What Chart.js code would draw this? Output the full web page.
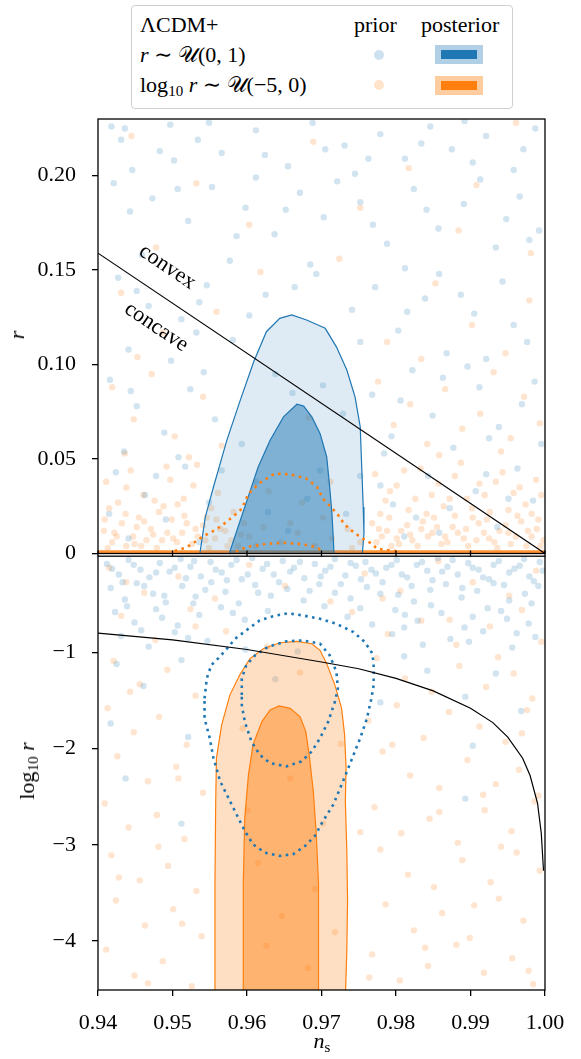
<!DOCTYPE html>
<html>
<head>
<meta charset="utf-8">
<script src="https://cdn.jsdelivr.net/npm/chart.js@4.4.1/dist/chart.umd.min.js"></script>
<style>
  html,body{margin:0;padding:0;background:#fff;}
  #wrap{position:relative;width:581px;height:1059px;overflow:hidden;font-family:"Liberation Serif","DejaVu Serif",serif;color:#000;}
  canvas{position:absolute;left:0;}
  #cTop{top:0;}
  #cBot{top:553px;}
  .t{position:absolute;font-size:22px;line-height:22px;white-space:nowrap;}
  .rot{transform:translate(-50%,-50%) rotate(-90deg);}
  .legend{position:absolute;left:131px;top:5px;width:380px;height:102px;border:1px solid #cfcfcf;border-radius:4px;background:#fff;}
  .dot{position:absolute;width:10px;height:10px;border-radius:50%;}
  .box{position:absolute;}
  sub{font-size:15px;vertical-align:-4px;line-height:0;}
</style>
</head>
<body>
<div id="wrap">
  <canvas id="cTop" width="581" height="560"></canvas>
  <canvas id="cBot" width="581" height="506"></canvas>

  <div class="legend">
    <div class="t" style="left:8px;top:8px;">ΛCDM+</div>
    <div class="t" style="left:8px;top:38px;"><i>r</i> ∼ 𝒰(0, 1)</div>
    <div class="t" style="left:8px;top:68px;">log<sub>10</sub> <i>r</i> ∼ 𝒰(−5, 0)</div>
    <div class="t" style="left:222px;top:8px;">prior</div>
    <div class="t" style="left:289px;top:8px;">posterior</div>
    <div class="dot" style="left:242px;top:44px;background:rgba(31,119,180,0.22);"></div>
    <div class="dot" style="left:242px;top:74px;background:rgba(255,127,14,0.22);"></div>
    <div class="box" style="left:303px;top:39px;width:48px;height:19px;background:rgba(31,119,180,0.35);"></div>
    <div class="box" style="left:309px;top:44px;width:36px;height:9px;background:#1f77b4;"></div>
    <div class="box" style="left:303px;top:70px;width:48px;height:19px;background:rgba(255,127,14,0.4);"></div>
    <div class="box" style="left:309px;top:75px;width:36px;height:9px;background:#ff7f0e;"></div>
  </div>

  <div class="t rot" style="left:17px;top:335px;"><i>r</i></div>
  <div class="t rot" style="left:27px;top:771px;">log<sub>10</sub> <i>r</i></div>
  <div class="t" style="left:322px;top:1041px;transform:translate(-50%,-50%);"><i>n</i><sub>s</sub></div>
  <div class="t" style="left:168px;top:266px;transform:translate(-50%,-50%) rotate(34deg);">convex</div>
  <div class="t" style="left:157px;top:326px;transform:translate(-50%,-50%) rotate(34deg);">concave</div>
</div>

<script>
// axis limits and ticks
const nsRange = [0.94, 1.00];
const rRange = [0, 0.23];
const logrRange = [-4.51, 0];
const nsTicks = [0.94, 0.95, 0.96, 0.97, 0.98, 0.99, 1.00];
const rTicks = [0, 0.05, 0.10, 0.15, 0.20];
const logrTicks = [-4, -3, -2, -1];

// prior samples, top panel (ns, r)
const priorBlueTop = [
  [0.9418,0.226],[0.9436,0.225],[0.9497,0.227],[0.9534,0.219],[0.9566,0.212],[0.9612,0.224],[0.9655,0.205],[0.9688,0.228],[0.9731,0.216],[0.9779,0.222],
  [0.9812,0.209],[0.9846,0.226],[0.9875,0.214],[0.9921,0.221],[0.9958,0.203],[0.9987,0.225],[0.9446,0.203],[0.9502,0.208],[0.9745,0.201],[0.9903,0.207],
  [0.9421,0.196],[0.9473,0.188],[0.9521,0.176],[0.9553,0.194],[0.9598,0.183],[0.9637,0.169],[0.9671,0.191],[0.9703,0.178],[0.9752,0.186],[0.9788,0.164],
  [0.9824,0.193],[0.9857,0.172],[0.9891,0.185],[0.9934,0.162],[0.9966,0.189],[0.9992,0.171],[0.9459,0.158],[0.9577,0.155],[0.9685,0.153],[0.9812,0.151],
  [0.9948,0.177],[0.9612,0.199],[0.9427,0.146],[0.9468,0.131],[0.9512,0.124],[0.9546,0.142],[0.9581,0.113],[0.9625,0.137],[0.9693,0.148],[0.9741,0.129],
  [0.9772,0.141],[0.9803,0.118],[0.9839,0.135],[0.9868,0.106],[0.9905,0.127],[0.9943,0.144],[0.9976,0.112],[0.9441,0.108],[0.9498,0.102],[0.9858,0.148],
  [0.9921,0.103],[0.9532,0.117],[0.9416,0.092],[0.9452,0.078],[0.9489,0.064],[0.9524,0.087],[0.9557,0.071],[0.9638,0.095],[0.9702,0.089],[0.9768,0.084],
  [0.9794,0.062],[0.9822,0.097],[0.9849,0.073],[0.9877,0.056],[0.9912,0.088],[0.9938,0.067],[0.9969,0.079],[0.9995,0.058],[0.9435,0.054],[0.9508,0.051],
  [0.9784,0.053],[0.9896,0.099],[0.9424,0.043],[0.9463,0.031],[0.9491,0.018],[0.9517,0.046],[0.9549,0.027],[0.9612,0.038],[0.9655,0.012],[0.9698,0.044],
  [0.9733,0.021],[0.9779,0.036],[0.9811,0.009],[0.9843,0.041],[0.9872,0.024],[0.9907,0.033],[0.9936,0.014],[0.9963,0.045],[0.9984,0.028],[0.9441,0.008],
  [0.9536,0.006],[0.9827,0.019],
  [0.9431,0.219],[0.9483,0.213],[0.9549,0.228],[0.9624,0.211],[0.9705,0.214],[0.9763,0.209],[0.9834,0.217],[0.9892,0.229],[0.9971,0.214],
  [0.9443,0.181],[0.9507,0.193],[0.9586,0.168],[0.9652,0.182],[0.9721,0.197],[0.9769,0.174],[0.9841,0.182],[0.9913,0.198],[0.9979,0.166],
  [0.9452,0.139],[0.9536,0.133],[0.9603,0.126],[0.9664,0.141],[0.9752,0.112],[0.9815,0.128],[0.9887,0.137],[0.9958,0.121],
  [0.9444,0.086],[0.9542,0.096],[0.9593,0.058],[0.9661,0.085],[0.9729,0.074],[0.9806,0.081],[0.9863,0.093],[0.9925,0.061],[0.9986,0.091],
  [0.9415,0.021],[0.9478,0.041],[0.9566,0.044],[0.9628,0.022],[0.9681,0.029],[0.9752,0.041],[0.9796,0.026],[0.9858,0.011],[0.9921,0.042],[0.9951,0.029]
];
const priorOrangeTop = [
  [0.9445,0.221],[0.9532,0.196],[0.9689,0.218],[0.9752,0.183],[0.9817,0.204],[0.9884,0.171],[0.9961,0.228],[0.9981,0.159],[0.9478,0.162],[0.9603,0.174],
  [0.9908,0.195],[0.9724,0.156],[0.9431,0.138],[0.9487,0.117],[0.9559,0.128],[0.9788,0.112],[0.9853,0.143],[0.9902,0.121],[0.9947,0.106],[0.9979,0.134],
  [0.9618,0.149],[0.9834,0.103],[0.9453,0.104],[0.9419,0.088],[0.9448,0.071],[0.9472,0.095],[0.9503,0.062],[0.9541,0.083],[0.9566,0.057],[0.9776,0.091],
  [0.9797,0.068],[0.9819,0.079],[0.9842,0.058],[0.9866,0.087],[0.9889,0.066],[0.9913,0.074],[0.9931,0.096],[0.9954,0.061],[0.9972,0.083],[0.9993,0.069],
  [0.9436,0.053],[0.9522,0.051],[0.9858,0.052],[0.9941,0.054],[0.9683,0.072],[0.9411,0.038],[0.9427,0.027],[0.9444,0.044],[0.9461,0.031],[0.9482,0.022],
  [0.9497,0.039],[0.9515,0.029],[0.9533,0.047],[0.9552,0.024],[0.9772,0.042],[0.9786,0.028],[0.9801,0.036],[0.9817,0.023],[0.9833,0.045],[0.9848,0.031],
  [0.9864,0.025],[0.9879,0.041],[0.9895,0.029],[0.9912,0.037],[0.9926,0.022],[0.9943,0.043],[0.9958,0.032],[0.9974,0.026],[0.9988,0.039],[0.9629,0.033],
  [0.9674,0.027],[0.9712,0.038],[0.9408,0.012],[0.9419,0.006],[0.9432,0.016],[0.9447,0.009],[0.9458,0.004],[0.9471,0.013],[0.9486,0.007],[0.9499,0.018],
  [0.9513,0.011],[0.9526,0.005],[0.9541,0.015],[0.9557,0.008],[0.9571,0.012],[0.9588,0.004],[0.9603,0.009],[0.9622,0.014],[0.9645,0.006],[0.9668,0.011],
  [0.9691,0.004],[0.9714,0.008],[0.9735,0.013],[0.9752,0.006],[0.9768,0.016],[0.9781,0.009],[0.9794,0.004],[0.9807,0.012],[0.9822,0.007],[0.9836,0.017],
  [0.9849,0.011],[0.9861,0.005],[0.9876,0.014],[0.9891,0.008],[0.9903,0.019],[0.9918,0.011],[0.9932,0.006],[0.9947,0.015],[0.9961,0.009],[0.9975,0.004],
  [0.9989,0.013],[0.9998,0.007],
  [0.9415,0.024],[0.9438,0.035],[0.9455,0.019],[0.9476,0.028],[0.9492,0.046],[0.9507,0.026],[0.9528,0.036],[0.9546,0.019],[0.9561,0.032],[0.9582,0.022],
  [0.9779,0.021],[0.9792,0.033],[0.9811,0.044],[0.9826,0.029],[0.9841,0.021],[0.9857,0.037],[0.9872,0.029],[0.9887,0.048],[0.9902,0.024],[0.9919,0.031],
  [0.9934,0.038],[0.9951,0.023],[0.9966,0.035],[0.9982,0.021],[0.9995,0.031],
  [0.9413,0.003],[0.9425,0.009],[0.9438,0.004],[0.9452,0.014],[0.9465,0.007],[0.9479,0.003],[0.9493,0.011],[0.9506,0.006],[0.9519,0.016],[0.9534,0.009],
  [0.9549,0.003],[0.9564,0.013],[0.9579,0.007],[0.9596,0.016],[0.9774,0.006],[0.9788,0.012],[0.9801,0.008],[0.9815,0.015],[0.9829,0.004],[0.9843,0.009],
  [0.9855,0.014],[0.9869,0.006],[0.9883,0.011],[0.9897,0.004],[0.9911,0.016],[0.9925,0.008],[0.9939,0.012],[0.9954,0.005],[0.9968,0.017],[0.9982,0.009],[0.9994,0.004],
  [0.9409,0.018],[0.9422,0.011],[0.9437,0.021],[0.9449,0.005],[0.9462,0.017],[0.9474,0.010],[0.9488,0.025],[0.9501,0.008],[0.9516,0.020],[0.9531,0.013],
  [0.9544,0.007],[0.9559,0.018],[0.9574,0.004],[0.9592,0.010],[0.9777,0.013],[0.9791,0.019],[0.9804,0.005],[0.9819,0.010],[0.9834,0.013],[0.9851,0.019],
  [0.9866,0.009],[0.9879,0.020],[0.9894,0.013],[0.9908,0.007],[0.9922,0.018],[0.9936,0.003],[0.9951,0.011],[0.9963,0.020],[0.9977,0.012],[0.9991,0.018],
  [0.9612,0.004],[0.9658,0.016],[0.9702,0.019],[0.9741,0.003]
];
// pile-up of log-prior samples at r ~ 0
const priorOrangeFloor = [[0.94,0.0008],[1.00,0.0008]];

// prior samples, bottom panel (ns, log10 r)
const priorBlueBot = [
  [0.9412,-0.08],[0.9428,-0.19],[0.9441,-0.04],[0.9457,-0.14],[0.9469,-0.22],[0.9483,-0.07],[0.9496,-0.16],[0.9511,-0.03],[0.9524,-0.11],[0.9538,-0.21],
  [0.9551,-0.06],[0.9566,-0.17],[0.9579,-0.09],[0.9593,-0.24],[0.9607,-0.02],[0.9621,-0.13],[0.9636,-0.19],[0.9648,-0.05],[0.9663,-0.12],[0.9677,-0.23],
  [0.9691,-0.08],[0.9705,-0.15],[0.9718,-0.03],[0.9732,-0.20],[0.9746,-0.10],[0.9759,-0.06],[0.9773,-0.18],[0.9787,-0.12],[0.9801,-0.04],[0.9815,-0.22],
  [0.9828,-0.09],[0.9842,-0.15],[0.9856,-0.02],[0.9869,-0.11],[0.9883,-0.19],[0.9897,-0.07],[0.9911,-0.14],[0.9925,-0.24],[0.9938,-0.05],[0.9952,-0.17],
  [0.9966,-0.10],[0.9979,-0.21],[0.9993,-0.06],[0.9417,-0.33],[0.9436,-0.45],[0.9452,-0.28],[0.9474,-0.39],[0.9491,-0.48],[0.9513,-0.31],[0.9531,-0.42],
  [0.9552,-0.27],[0.9571,-0.37],[0.9589,-0.49],[0.9611,-0.30],[0.9632,-0.41],[0.9654,-0.34],[0.9676,-0.46],[0.9697,-0.29],[0.9718,-0.38],[0.9739,-0.44],
  [0.9761,-0.32],[0.9782,-0.27],[0.9803,-0.40],[0.9824,-0.47],[0.9846,-0.35],[0.9867,-0.29],[0.9888,-0.43],[0.9909,-0.36],[0.9931,-0.28],[0.9952,-0.46],
  [0.9973,-0.39],[0.9991,-0.31],[0.9423,-0.58],[0.9449,-0.69],[0.9478,-0.55],[0.9507,-0.72],[0.9536,-0.61],[0.9565,-0.53],[0.9597,-0.66],[0.9628,-0.57],
  [0.9704,-0.52],[0.9735,-0.63],[0.9768,-0.71],[0.9799,-0.56],[0.9829,-0.67],[0.9861,-0.59],[0.9892,-0.74],[0.9923,-0.54],[0.9949,-0.65],[0.9978,-0.70],
  [0.9431,-0.83],[0.9468,-0.94],[0.9503,-0.79],[0.9547,-0.88],[0.9598,-0.97],[0.9795,-0.81],[0.9836,-0.92],[0.9873,-0.86],[0.9917,-0.78],[0.9956,-0.95],
  [0.9987,-0.84],[0.9668,-0.99],[0.9425,-1.12],[0.9461,-1.35],[0.9512,-1.08],[0.9638,-1.28],[0.9811,-1.04],[0.9842,-1.19],[0.9893,-1.46],[0.9934,-1.22],
  [0.9968,-1.61],[0.9417,-1.74],[0.9779,-1.52],[0.9521,-1.88],[0.9903,-1.97],[0.9437,-2.31],[0.9893,-2.52],[0.9512,-2.78],
  [0.9419,-0.13],[0.9433,-0.27],[0.9448,-0.09],[0.9462,-0.31],[0.9478,-0.17],[0.9489,-0.41],[0.9503,-0.12],[0.9518,-0.23],[0.9529,-0.05],[0.9544,-0.35],
  [0.9558,-0.14],[0.9573,-0.25],[0.9586,-0.04],[0.9601,-0.19],[0.9615,-0.38],[0.9627,-0.08],[0.9643,-0.27],[0.9658,-0.16],[0.9671,-0.06],[0.9684,-0.36],
  [0.9699,-0.21],[0.9712,-0.11],[0.9726,-0.29],[0.9739,-0.07],[0.9753,-0.24],[0.9767,-0.14],[0.9779,-0.39],[0.9794,-0.09],[0.9808,-0.19],[0.9821,-0.31],
  [0.9835,-0.06],[0.9849,-0.25],[0.9862,-0.16],[0.9876,-0.04],[0.9889,-0.33],[0.9903,-0.12],[0.9917,-0.22],[0.9931,-0.09],[0.9945,-0.30],[0.9959,-0.13],
  [0.9972,-0.03],[0.9985,-0.26],[0.9997,-0.15],[0.9439,-0.52],[0.9486,-0.64],[0.9528,-0.49],[0.9581,-0.59],[0.9752,-0.54],[0.9812,-0.61],[0.9847,-0.51],
  [0.9903,-0.63],[0.9941,-0.57],[0.9982,-0.49],[0.9458,-0.77],[0.9521,-0.85],[0.9811,-0.74],[0.9898,-0.89],[0.9962,-0.80]
];
const priorOrangeBot = [
  [0.9415,-0.12],[0.9462,-0.38],[0.9508,-0.21],[0.9557,-0.44],[0.9603,-0.09],[0.9651,-0.31],[0.9712,-0.47],[0.9758,-0.18],[0.9806,-0.36],[0.9857,-0.05],
  [0.9903,-0.27],[0.9952,-0.41],[0.9988,-0.15],[0.9431,-0.62],[0.9477,-0.87],[0.9524,-0.55],[0.9572,-0.78],[0.9627,-0.94],[0.9741,-0.58],[0.9789,-0.81],
  [0.9834,-0.67],[0.9881,-0.92],[0.9926,-0.73],[0.9969,-0.56],[0.9995,-0.89],[0.9421,-1.09],[0.9456,-1.33],[0.9493,-1.18],[0.9531,-1.45],[0.9774,-1.06],
  [0.9812,-1.27],[0.9848,-1.41],[0.9885,-1.14],[0.9921,-1.36],[0.9958,-1.22],[0.9983,-1.48],[0.9671,-1.21],[0.9413,-1.58],[0.9448,-1.83],[0.9482,-1.67],
  [0.9519,-1.96],[0.9763,-1.71],[0.9801,-1.55],[0.9837,-1.89],[0.9871,-1.62],[0.9912,-1.77],[0.9947,-1.93],[0.9976,-1.60],[0.9594,-1.79],[0.9426,-2.08],
  [0.9467,-2.34],[0.9505,-2.19],[0.9541,-2.46],[0.9782,-2.03],[0.9819,-2.28],[0.9858,-2.41],[0.9896,-2.12],[0.9934,-2.37],[0.9965,-2.22],[0.9991,-2.49],
  [0.9658,-2.31],[0.9409,-2.57],[0.9441,-2.82],[0.9479,-2.69],[0.9516,-2.94],[0.9771,-2.61],[0.9807,-2.88],[0.9845,-2.73],[0.9883,-2.98],[0.9919,-2.64],
  [0.9955,-2.86],[0.9986,-2.55],[0.9702,-2.78],[0.9418,-3.11],[0.9456,-3.37],[0.9494,-3.22],[0.9532,-3.48],[0.9779,-3.05],[0.9816,-3.31],[0.9851,-3.44],
  [0.9889,-3.16],[0.9927,-3.39],[0.9962,-3.08],[0.9993,-3.27],[0.9615,-3.19],[0.9424,-3.58],[0.9463,-3.84],[0.9501,-3.67],[0.9539,-3.95],[0.9786,-3.62],
  [0.9824,-3.89],[0.9862,-3.71],[0.9899,-3.97],[0.9938,-3.56],[0.9971,-3.79],[0.9647,-3.74],[0.9718,-3.91],[0.9411,-4.09],[0.9449,-4.36],[0.9487,-4.21],
  [0.9526,-4.47],[0.9768,-4.14],[0.9805,-4.41],[0.9843,-4.26],[0.9881,-4.04],[0.9918,-4.33],[0.9956,-4.18],[0.9984,-4.45],[0.9682,-4.28],
  [0.9438,-0.27],[0.9531,-0.73],[0.9782,-0.44],[0.9872,-0.66],[0.9937,-1.05],[0.9443,-1.41],[0.9508,-2.31],[0.9795,-1.96],[0.9858,-2.66],[0.9941,-3.02],
  [0.9428,-3.34],[0.9513,-3.82],[0.9839,-4.07],[0.9905,-3.63],[0.9978,-4.31],[0.9467,-4.44],[0.9601,-2.64],[0.9626,-4.05],[0.9691,-3.46],[0.9726,-1.95],
  [0.9752,-2.87],[0.9764,-4.38],[0.9917,-2.48],[0.9969,-1.84],[0.9481,-3.02]
];

// posterior contours, r ~ U(0,1) run, in (ns, r)
const blue95Top = [
  [0.9537,-0.003],[0.9537,0.0007],[0.9544,0.0193],[0.9555,0.0352],[0.9573,0.0600],[0.9591,0.0812],[0.9609,0.1015],[0.9626,0.1174],[0.9644,0.1245],
  [0.9660,0.1263],[0.9680,0.1236],[0.9705,0.1192],[0.9720,0.1094],[0.9734,0.0971],[0.9745,0.0829],[0.9752,0.0670],[0.9754,0.0458],[0.9756,0.0246],
  [0.9757,0.0106],[0.9755,0.0007],[0.9755,-0.003],[0.9537,-0.003]
];
const blue68Top = [
  [0.9577,-0.003],[0.9577,0.001],[0.9588,0.0140],[0.9600,0.0281],[0.9615,0.0458],[0.9631,0.0600],[0.9649,0.0723],[0.9667,0.0790],[0.9676,0.0780],
  [0.9687,0.0723],[0.9698,0.0635],[0.9707,0.0511],[0.9711,0.0352],[0.9714,0.0211],[0.9716,0.0069],[0.9717,-0.003],[0.9577,-0.003]
];
// log10 r ~ U(-5,0) run shown in r
const orange95Top = [
  [0.9503,0.0013],[0.9519,0.0033],[0.9529,0.0058],[0.9538,0.0083],[0.9548,0.0105],[0.9558,0.0126],[0.9567,0.0150],[0.9576,0.0179],[0.9585,0.0208],
  [0.9593,0.0237],[0.9602,0.0317],[0.9617,0.0373],[0.9637,0.0423],[0.9658,0.0419],[0.9680,0.0396],[0.9694,0.0352],[0.9702,0.0290],[0.9716,0.0232],
  [0.9724,0.0196],[0.9730,0.0158],[0.9738,0.0129],[0.9747,0.0101],[0.9756,0.0078],[0.9766,0.0055],[0.9775,0.0025],[0.9805,0.0010]
];
const orange68Top = [
  [0.9585,0.0010],[0.9593,0.0025],[0.9604,0.0037],[0.9626,0.0051],[0.9649,0.0057],[0.9669,0.0051],[0.9685,0.0042],[0.9694,0.0030],[0.9701,0.0016]
];

// posterior contours in (ns, log10 r)
const orange95Bot = [
  [0.9557,-4.60],[0.9557,-3.408],[0.9558,-2.547],[0.9559,-2.099],[0.9566,-1.754],[0.9577,-1.444],[0.9590,-1.237],[0.9604,-1.065],[0.9622,-0.962],
  [0.9644,-0.900],[0.9667,-0.885],[0.9687,-0.910],[0.9698,-0.978],[0.9707,-1.117],[0.9718,-1.340],[0.9727,-1.582],[0.9731,-1.857],[0.9733,-2.203],
  [0.9732,-2.547],[0.9734,-3.064],[0.9735,-3.581],[0.9734,-4.098],[0.9732,-4.60],[0.9557,-4.60]
];
const orange68Bot = [
  [0.9595,-4.60],[0.9595,-3.408],[0.9597,-2.720],[0.9602,-2.271],[0.9608,-1.961],[0.9620,-1.720],[0.9631,-1.599],[0.9643,-1.557],[0.9658,-1.582],
  [0.9671,-1.668],[0.9679,-1.823],[0.9684,-2.099],[0.9689,-2.444],[0.9693,-2.891],[0.9696,-3.408],[0.9696,-4.60],[0.9595,-4.60]
];
const blue95Bot = [
  [0.9543,-1.479],[0.9546,-1.272],[0.9552,-1.133],[0.9561,-1.065],[0.9573,-0.962],[0.9584,-0.858],[0.9599,-0.771],[0.9617,-0.668],[0.9635,-0.624],
  [0.9655,-0.593],[0.9675,-0.616],[0.9698,-0.651],[0.9720,-0.703],[0.9743,-0.789],[0.9758,-0.892],[0.9767,-0.996],[0.9770,-1.099],[0.9770,-1.340],
  [0.9767,-1.479],[0.9761,-1.686],[0.9752,-1.892],[0.9743,-2.064],[0.9736,-2.203],[0.9727,-2.374],[0.9716,-2.581],[0.9702,-2.754],[0.9691,-2.909],
  [0.9678,-3.012],[0.9662,-3.098],[0.9644,-3.116],[0.9624,-3.082],[0.9608,-2.995],[0.9597,-2.857],[0.9586,-2.685],[0.9575,-2.513],[0.9564,-2.340],
  [0.9555,-2.099],[0.9550,-1.892],[0.9543,-1.686],[0.9543,-1.479]
];
const blue68Bot = [
  [0.9593,-1.444],[0.9593,-1.272],[0.9599,-1.133],[0.9611,-1.030],[0.9628,-0.944],[0.9653,-0.885],[0.9675,-0.875],[0.9698,-0.910],[0.9711,-1.030],
  [0.9720,-1.203],[0.9722,-1.375],[0.9718,-1.513],[0.9709,-1.720],[0.9698,-1.892],[0.9687,-2.030],[0.9673,-2.133],[0.9653,-2.185],[0.9631,-2.151],
  [0.9617,-2.064],[0.9606,-1.927],[0.9597,-1.720],[0.9593,-1.547],[0.9593,-1.444]
];

// convex / concave boundary
const boundaryTop = [[0.94,0.159],[1.00,0]];
const boundaryBot = [
  [0.94,-0.80],[0.95,-0.87],[0.96,-0.97],[0.97,-1.10],[0.975,-1.17],[0.98,-1.27],[0.985,-1.40],[0.99,-1.58],[0.993,-1.73],
  [0.995,-1.88],[0.997,-2.10],[0.998,-2.28],[0.999,-2.57],[0.9995,-2.88],[0.9998,-3.27]
];

const BLUE = '#1f77b4', ORANGE = '#ff7f0e';
const tickFont = {family:'Liberation Serif', size:22};
const xy = arr => arr.map(([x,y]) => ({x, y}));

function pts(data, color){
  return {data:xy(data), showLine:false, pointRadius:3.2, pointHoverRadius:0, pointBorderWidth:0, pointBackgroundColor:color, order:6};
}
function area(data, fillColor, line, order){
  return {data:xy(data), fill:'shape', backgroundColor:fillColor, borderColor:line, borderWidth:1.2, pointRadius:0, tension:0, order};
}
function dotted(data, color){
  return {data:xy(data), fill:false, borderColor:color, borderWidth:2.6, borderDash:[2.6,4.4], borderCapStyle:'butt', pointRadius:0, tension:0, order:2};
}
function solid(data){
  return {data:xy(data), fill:false, borderColor:'#000', borderWidth:1.2, pointRadius:0, tension:0, order:1};
}

const frame = {
  id:'frame',
  afterDatasetsDraw(chart, args, opts){
    const {ctx, chartArea:a, scales:{x}} = chart;
    ctx.save();
    ctx.strokeStyle = '#000'; ctx.lineWidth = 1.3;
    ctx.strokeRect(a.left, a.top, a.right - a.left, a.bottom - a.top);
    if(opts.midTicks){
      nsTicks.forEach(v => {
        const px = x.getPixelForValue(v);
        ctx.beginPath(); ctx.moveTo(px, a.bottom - 3); ctx.lineTo(px, a.bottom + 3); ctx.stroke();
      });
    }
    ctx.restore();
  }
};

// no overhang padding for end labels: the plot box is set by layout padding only
function noOverhang(s){ s.paddingTop = 0; s.paddingBottom = 0; s.paddingLeft = 0; s.paddingRight = 0; }

function yAxis(range, ticks, fmt){
  return {
    type:'linear', min:range[0], max:range[1],
    afterFit(s){ s.width = 98; noOverhang(s); },
    afterBuildTicks(s){ s.ticks = ticks.map(v => ({value:v})); },
    ticks:{font:tickFont, color:'#000', padding:16, callback:fmt},
    grid:{drawOnChartArea:false, drawTicks:true, tickLength:6, color:'#000', lineWidth:1.3},
    border:{display:false}
  };
}

// nudge layout padding until the plot area sits where it should
function pin(chart, box){
  for(let i = 0; i < 4; i++){
    const a = chart.chartArea;
    const p = chart.config.options.layout.padding;
    const np = {left:p.left + (box.left - a.left), right:p.right + (a.right - box.right),
                top:p.top + (box.top - a.top), bottom:p.bottom + (a.bottom - box.bottom)};
    if(Math.abs(np.top - p.top) < 0.1 && Math.abs(np.bottom - p.bottom) < 0.1 &&
       Math.abs(np.left - p.left) < 0.1 && Math.abs(np.right - p.right) < 0.1) break;
    chart.config.options.layout.padding = np;
    chart.update();
  }
}

const topChart = new Chart(document.getElementById('cTop'), {
  type:'line',
  data:{datasets:[
    pts(priorBlueTop, 'rgba(31,119,180,0.2)'),
    pts(priorOrangeTop, 'rgba(255,127,14,0.2)'),
    {data:xy(priorOrangeFloor), fill:false, borderColor:'rgba(255,127,14,0.85)', borderWidth:3.5, pointRadius:0, order:5},
    area(blue95Top, 'rgba(31,119,180,0.15)', BLUE, 4),
    area(blue68Top, 'rgba(31,119,180,0.5)', BLUE, 3),
    dotted(orange95Top, ORANGE),
    dotted(orange68Top, ORANGE),
    solid(boundaryTop)
  ]},
  options:{
    responsive:false, animation:false, events:[],
    layout:{padding:{left:0, right:36, top:119, bottom:6.5}},
    plugins:{legend:{display:false}, tooltip:{enabled:false}, frame:{midTicks:true}},
    scales:{
      x:{type:'linear', display:false, min:nsRange[0], max:nsRange[1]},
      y:yAxis(rRange, rTicks, v => v === 0 ? '0' : v.toFixed(2))
    }
  },
  plugins:[frame]
});
pin(topChart, {left:98, right:545, top:119, bottom:553.5});

const botChart = new Chart(document.getElementById('cBot'), {
  type:'line',
  data:{datasets:[
    pts(priorBlueBot, 'rgba(31,119,180,0.2)'),
    pts(priorOrangeBot, 'rgba(255,127,14,0.2)'),
    area(orange95Bot, 'rgba(255,127,14,0.25)', ORANGE, 4),
    area(orange68Bot, 'rgba(255,127,14,0.45)', ORANGE, 3),
    dotted(blue95Bot, BLUE),
    dotted(blue68Bot, BLUE),
    solid(boundaryBot)
  ]},
  options:{
    responsive:false, animation:false, events:[],
    layout:{padding:{left:0, right:36, top:0.5, bottom:0}},
    plugins:{legend:{display:false}, tooltip:{enabled:false}, frame:{midTicks:false}},
    scales:{
      x:{
        type:'linear', min:nsRange[0], max:nsRange[1],
        afterFit(s){ s.height = 69; noOverhang(s); },
        afterBuildTicks(s){ s.ticks = nsTicks.map(v => ({value:v})); },
        ticks:{font:tickFont, color:'#000', padding:14, maxRotation:0, callback:v => v.toFixed(2)},
        grid:{drawOnChartArea:false, drawTicks:true, tickLength:6, color:'#000', lineWidth:1.3},
        border:{display:false}
      },
      y:yAxis(logrRange, logrTicks, v => '\u2212' + Math.abs(v))
    }
  },
  plugins:[frame]
});
pin(botChart, {left:98, right:545, top:0.5, bottom:437});
</script>
</body>
</html>
